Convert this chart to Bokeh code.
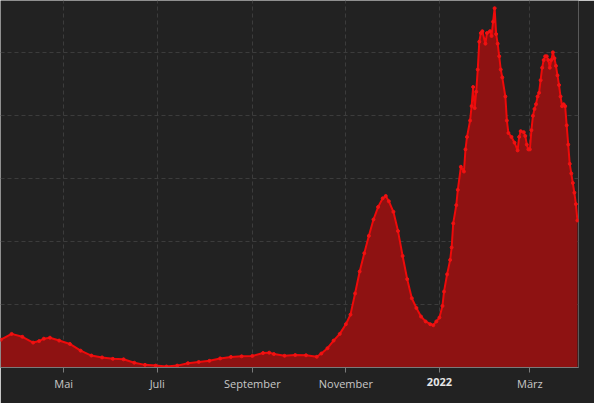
import pandas as pd
from bokeh.plotting import figure
from bokeh.models import (ColumnDataSource, FixedTicker, Range1d, Label,
                          SingleIntervalTicker)
from bokeh.embed import file_html
from bokeh.resources import INLINE

# ---- data ----
dates = [
    "2021-03-21", "2021-03-28", "2021-04-04", "2021-04-11", "2021-04-15", "2021-04-18",
    "2021-04-22", "2021-04-28", "2021-05-05", "2021-05-12", "2021-05-19", "2021-05-26",
    "2021-06-02", "2021-06-09", "2021-06-16", "2021-06-23", "2021-06-30", "2021-07-07",
    "2021-07-14", "2021-07-21", "2021-07-28", "2021-08-04", "2021-08-11", "2021-08-18",
    "2021-08-25", "2021-09-01", "2021-09-08", "2021-09-12", "2021-09-15", "2021-09-22",
    "2021-09-29", "2021-10-06", "2021-10-13", "2021-10-16", "2021-10-20", "2021-10-24",
    "2021-10-28", "2021-11-01", "2021-11-04", "2021-11-07", "2021-11-10", "2021-11-13",
    "2021-11-16", "2021-11-19", "2021-11-22", "2021-11-25", "2021-11-27", "2021-11-29",
    "2021-12-02", "2021-12-05", "2021-12-08", "2021-12-11", "2021-12-14", "2021-12-17",
    "2021-12-20", "2021-12-23", "2021-12-26", "2021-12-28", "2021-12-30", "2022-01-01",
    "2022-01-03", "2022-01-04", "2022-01-06", "2022-01-08", "2022-01-09", "2022-01-10",
    "2022-01-12", "2022-01-13", "2022-01-15", "2022-01-17", "2022-01-18", "2022-01-19",
    "2022-01-21", "2022-01-22", "2022-01-23", "2022-01-24", "2022-01-25", "2022-01-26",
    "2022-01-27", "2022-01-28", "2022-01-29", "2022-01-31", "2022-02-01", "2022-02-03",
    "2022-02-04", "2022-02-05", "2022-02-06", "2022-02-07", "2022-02-08", "2022-02-09",
    "2022-02-10", "2022-02-11", "2022-02-13", "2022-02-14", "2022-02-15", "2022-02-17",
    "2022-02-19", "2022-02-21", "2022-02-22", "2022-02-23", "2022-02-25", "2022-02-26",
    "2022-02-27", "2022-02-28", "2022-03-01", "2022-03-02", "2022-03-03", "2022-03-04",
    "2022-03-05", "2022-03-06", "2022-03-07", "2022-03-08", "2022-03-09", "2022-03-10",
    "2022-03-11", "2022-03-12", "2022-03-13", "2022-03-14", "2022-03-15", "2022-03-16",
    "2022-03-17", "2022-03-18", "2022-03-19", "2022-03-20", "2022-03-21", "2022-03-22",
    "2022-03-23", "2022-03-24", "2022-03-25", "2022-03-26", "2022-03-27", "2022-03-28",
    "2022-03-29", "2022-03-30", "2022-03-31", "2022-04-01",
]
values = [
    221, 267, 244, 198, 210, 229,
    237, 214, 187, 134, 95, 80,
    69, 65, 38, 21, 15, 8,
    15, 34, 44, 53, 72, 84,
    89, 92, 115, 118, 107, 93,
    99, 97, 85, 111, 153, 214,
    267, 344, 420, 588, 763, 908,
    1046, 1176, 1275, 1344, 1363, 1321,
    1237, 1084, 886, 702, 550, 473,
    405, 366, 344, 336, 366, 397,
    489, 603, 740, 855, 954, 1145,
    1290, 1412, 1595, 1557, 1733, 1832,
    1962, 2077, 2229, 2061, 2191, 2367,
    2588, 2657, 2672, 2573, 2657, 2672,
    2634, 2748, 2855, 2649, 2573, 2473,
    2367, 2305, 2153, 1962, 1863, 1832,
    1786, 1725, 1832, 1878, 1870, 1840,
    1771, 1733, 1733, 1886, 2000, 2054,
    2092, 2153, 2183, 2283, 2382, 2443,
    2473, 2473, 2443, 2382, 2443, 2504,
    2458, 2397, 2321, 2244, 2153, 2076,
    2092, 2076, 1924, 1771, 1618, 1542,
    1466, 1389, 1298, 1168,
]
tick_dates = ["2021-05-01", "2021-07-01", "2021-09-01", "2021-11-01", "2022-01-01", "2022-03-01"]
tick_labels = ["Mai", "Juli", "September", "November", "2022", "März"]
bold_label = "2022"

# ---- build ----
ts = pd.to_datetime(dates)
ms = [int(t.value // 10**6) for t in ts]
tick_ms = [int(pd.Timestamp(d).value // 10**6) for d in tick_dates]
src = ColumnDataSource(dict(x=ms, y=values, y0=[0] * len(values)))

x_start = int(pd.Timestamp("2021-03-20T18:00").value // 10**6)
x_end = int(pd.Timestamp("2022-04-01T17:00").value // 10**6)

BG = "#222222"
p = figure(width=594, height=403, output_backend="svg", toolbar_location=None,
           x_axis_type="datetime",
           x_range=Range1d(x_start, x_end), y_range=Range1d(0, 2916),
           background_fill_color=BG, border_fill_color=BG,
           min_border_left=0, min_border_top=0, min_border_right=16,
           min_border_bottom=36, outline_line_color=None)

p.varea(x="x", y1="y0", y2="y", source=src, fill_color="#8e1212", fill_alpha=1.0)
p.line(x="x", y="y", source=src, line_color="#ee0a0a", line_width=2)
p.scatter(x="x", y="y", source=src, size=3, color="#f01212")

p.yaxis.visible = False
p.ygrid.ticker = SingleIntervalTicker(interval=500)
p.ygrid.grid_line_color = "#3c3c3c"
p.ygrid.grid_line_dash = "4 3"

ax = p.xaxis[0]
ax.ticker = FixedTicker(ticks=tick_ms)
ax.major_label_overrides = {t: (l if l != bold_label else "") for t, l in zip(tick_ms, tick_labels)}
ax.axis_line_color = "#7a7a7a"
ax.major_tick_line_color = "#7a7a7a"
ax.major_tick_out = 5
ax.major_tick_in = 0
ax.minor_tick_out = 0
ax.minor_tick_in = 0
ax.major_label_text_color = "#c8c8c8"
ax.major_label_text_font = "Open Sans"
ax.major_label_text_font_size = "11px"
ax.major_label_standoff = 3
p.xgrid.ticker = FixedTicker(ticks=tick_ms)
p.xgrid.grid_line_color = "#3c3c3c"
p.xgrid.grid_line_dash = "4 3"

for t, l in zip(tick_ms, tick_labels):
    if l == bold_label:
        p.add_layout(Label(x=t, y=20, x_units="data", y_units="screen", text=l,
                           text_align="center", text_baseline="middle",
                           text_color="#e6e6e6", text_font="Open Sans",
                           text_font_size="11px", text_font_style="bold"), "below")

open("out.html", "w").write(file_html(p, INLINE))
